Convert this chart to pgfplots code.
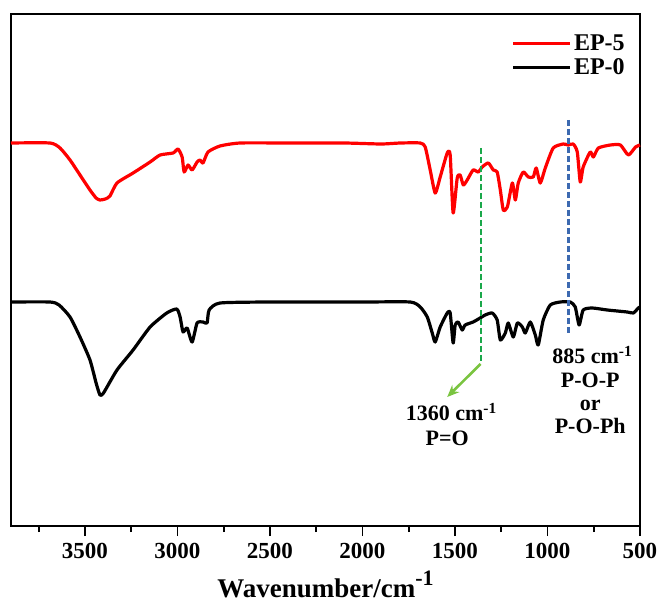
\documentclass[border=0pt]{standalone}
\usepackage{pgfplots}
\pgfplotsset{compat=1.18}
\usepackage{fontspec}
\setmainfont{Liberation Serif}
\usetikzlibrary{arrows.meta}
\definecolor{dgreen}{RGB}{26,168,74}
\definecolor{lgreen}{RGB}{122,196,64}
\definecolor{dblue}{RGB}{61,106,177}
\begin{document}
\begin{tikzpicture}
\begin{axis}[
  scale only axis, width=629pt, height=512pt,
  xmin=500, xmax=3900, ymin=74, ymax=586,
  x dir=reverse,
  xtick={500,1000,...,3500},
  minor xtick={750,1250,...,3750},
  ytick=\empty,
  xtick pos=bottom, tick align=outside,
  major tick length=10pt, minor tick length=6pt,
  every tick/.style={black, line width=1.8pt},
  axis line style={line width=2pt},
  /pgf/number format/assume math mode=true,
  /pgf/number format/1000 sep={},
  xticklabel style={font=\fontsize{23}{25}\selectfont\bfseries, yshift=-4pt},
  xlabel={Wavenumber/cm\raisebox{12pt}{\fontsize{22}{22}\selectfont -1}},
  xlabel style={font=\fontsize{27}{30}\selectfont\bfseries, yshift=-5pt},
  legend style={draw=none, fill=none, at={(0.984,0.968)}, anchor=north east,
    font=\fontsize{24}{26}\selectfont\bfseries, row sep=3pt},
  legend cell align=left,
  legend image code/.code={\draw[#1] (0pt,0pt) -- (57pt,0pt);},
  clip=false
]
\addplot[red, line width=3.2pt, line join=round, smooth, tension=0.35] coordinates {
(3900,457)(3689,457)(3635,452)(3581,440)(3527,425)(3473,410)(3440,402)(3419,400)(3390,401)(3365,404)(3327,417)(3240,427)(3148,438)(3094,445)(3024,447)(2997,451)(2975,443)(2964,428)(2943,435)(2921,430)(2894,438)(2878,440)(2862,437)(2835,448)(2770,454)(2661,457)(2400,457)(2100,457)(1900,456)(1796,457)(1688,457)(1661,453)(1634,430)(1607,407)(1580,423)(1542,447)(1526,445)(1510,387)(1488,422)(1472,425)(1455,415)(1434,420)(1402,430)(1374,428)(1353,433)(1320,437)(1293,430)(1272,428)(1255,410)(1239,390)(1217,393)(1190,417)(1174,400)(1158,417)(1131,428)(1104,423)(1077,423)(1061,432)(1039,417)(1012,432)(969,452)(915,456)(888,455)(861,456)(839,448)(823,418)(807,433)(769,448)(752,443)(725,452)(660,455)(606,455)(563,445)(524,453)(500,455)
};
\addlegendentry{EP-5}
\addplot[black, line width=3.2pt, line join=round, smooth, tension=0.35] coordinates {
(3900,298)(3689,298)(3640,295)(3581,283)(3527,263)(3473,240)(3440,217)(3419,205)(3400,207)(3327,230)(3240,250)(3148,273)(3058,287)(3004,291)(2986,283)(2970,268)(2948,272)(2921,258)(2894,277)(2862,278)(2840,277)(2829,290)(2770,297)(2500,298)(2000,298)(1742,298)(1688,293)(1650,283)(1623,267)(1607,258)(1580,273)(1542,287)(1526,287)(1510,257)(1499,275)(1483,278)(1461,270)(1445,275)(1402,278)(1364,282)(1337,285)(1299,287)(1272,280)(1255,260)(1228,267)(1212,277)(1185,263)(1163,277)(1136,273)(1120,267)(1093,278)(1066,265)(1050,255)(1023,280)(985,295)(931,298)(877,298)(850,293)(829,275)(807,290)(758,292)(677,290)(569,288)(536,287)(509,292)(500,293)
};
\addlegendentry{EP-0}
\draw[dgreen, line width=2.6pt, dash pattern=on 6pt off 3pt] (axis cs:1360,452) -- (axis cs:1360,238);
\draw[dblue, line width=2.6pt, dash pattern=on 6pt off 3pt] (axis cs:885,480) -- (axis cs:885,265);
\draw[lgreen, line width=2.6pt, -{Stealth[length=12pt,width=10pt]}] (axis cs:1362,236) -- (axis cs:1542,203);
\node[font=\fontsize{22}{24}\selectfont\bfseries] at (axis cs:758,245) {885 cm\textsuperscript{-1}};
\node[font=\fontsize{22}{23}\selectfont\bfseries, align=center] at (axis cs:769,197) {P-O-P\\or\\P-O-Ph};
\node[font=\fontsize{22}{24}\selectfont\bfseries] at (axis cs:1520,188) {1360 cm\textsuperscript{-1}};
\node[font=\fontsize{22}{24}\selectfont\bfseries] at (axis cs:1542,162) {P=O};
\end{axis}
\pgfresetboundingbox
\useasboundingbox ([shift={(-11pt,-76pt)}]current axis.south west) rectangle ([shift={(18pt,14pt)}]current axis.north east);
\end{tikzpicture}
\end{document}
